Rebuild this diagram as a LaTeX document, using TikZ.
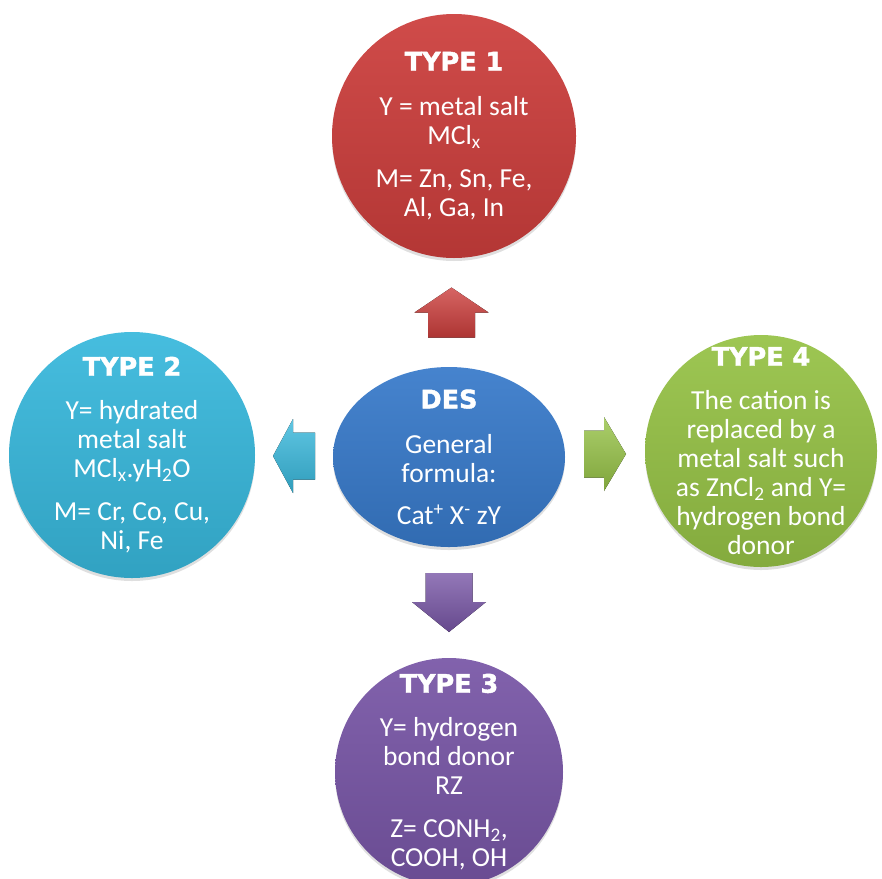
\documentclass[tikz,border=0pt]{standalone}
\usepackage{fontspec}
\setmainfont{Carlito}
\newfontfamily\headfont{DejaVu Sans}[BoldFeatures={FakeBold=1.6}]
\usetikzlibrary{shapes.geometric,shadows,calc}

\definecolor{redball}{RGB}{204,62,60}
\definecolor{cyanball}{RGB}{56,184,220}
\definecolor{blueball}{RGB}{56,122,202}
\definecolor{greenball}{RGB}{150,194,70}
\definecolor{purpleball}{RGB}{120,86,166}

\newcommand{\ttl}[1]{{\headfont\bfseries\fontsize{25.5}{29}\selectfont #1}}
% block arrow: at, angle, length, head length, colour
\newcommand{\blockarrow}[5]{%
  \fill[top color=#5!80!white, bottom color=#5!85!black, shift={(#1)}, rotate=#2]
    ({-#3/2},-23.5) -- ({#3/2-#4},-23.5) -- ({#3/2-#4},-37) -- ({#3/2},0)
    -- ({#3/2-#4},37) -- ({#3/2-#4},23.5) -- ({-#3/2},23.5) -- cycle;}

\begin{document}
\begin{tikzpicture}[
    x=1pt, y=-1pt,
    disc/.style={circle, inner sep=0pt, minimum size=#1,
      drop shadow={opacity=0.25, shadow xshift=0pt, shadow yshift=-3pt}},
    txt/.style={align=center, text=white, inner sep=0pt,
      font=\fontsize{27.5}{29}\selectfont}
]
\useasboundingbox (0,0) rectangle (882,878);

\node[disc=244, top color=redball!93!white, bottom color=redball!88!black] (type1) at (454,136) {};
\node[disc=246, top color=cyanball!93!white, bottom color=cyanball!88!black] (type2) at (132,455) {};
\node[disc=232, top color=greenball!93!white, bottom color=greenball!88!black] (type4) at (761,451) {};
\node[disc=228, top color=purpleball!93!white, bottom color=purpleball!88!black] (type3) at (449,772) {};
\node[ellipse, inner sep=0pt, minimum width=232, minimum height=180,
  top color=blueball!93!white, bottom color=blueball!88!black,
  drop shadow={opacity=0.25, shadow xshift=0pt, shadow yshift=-3pt}] (des) at (449,457) {};

\node[txt] (type1txt) at (type1) {\ttl{TYPE 1}\\[16pt] Y = metal salt\\ MCl\textsubscript{x}\\[14pt] M= Zn, Sn, Fe,\\ Al, Ga, In};
\node[txt] (type2txt) at (type2) {\ttl{TYPE 2}\\[15pt] Y= hydrated\\ metal salt\\ MCl\textsubscript{x}.yH\textsubscript{2}O\\[14pt] M= Cr, Co, Cu,\\ Ni, Fe};
\node[txt] (type4txt) at (type4) {\ttl{TYPE 4}\\[15pt] The cation is\\ replaced by a\\ metal salt such\\ as ZnCl\textsubscript{2} and Y=\\ hydrogen bond\\ donor};
\node[txt] (type3txt) at (type3) {\ttl{TYPE 3}\\[15pt] Y= hydrogen\\ bond donor\\ RZ\\[14pt] Z= CONH\textsubscript{2},\\ COOH, OH};
\node[txt] (destxt) at (des) {\ttl{DES}\\[16pt] General\\ formula:\\[13pt] Cat\textsuperscript{+} X\textsuperscript{-} zY};

\coordinate (up) at ($(des.north)!0.5!(type1.south)$);
\coordinate (left) at ($(des.west)!0.5!(type2.east)$);
\coordinate (right) at ($(des.east)!0.5!(type4.west)$);
\coordinate (down) at ($(des.south)!0.5!(type3.north)$);

\blockarrow{up}{90}{50}{25}{redball}
\blockarrow{left}{180}{42}{20}{cyanball}
\blockarrow{right}{0}{42}{22}{greenball}
\blockarrow{down}{270}{59}{30}{purpleball}
\end{tikzpicture}
\end{document}
